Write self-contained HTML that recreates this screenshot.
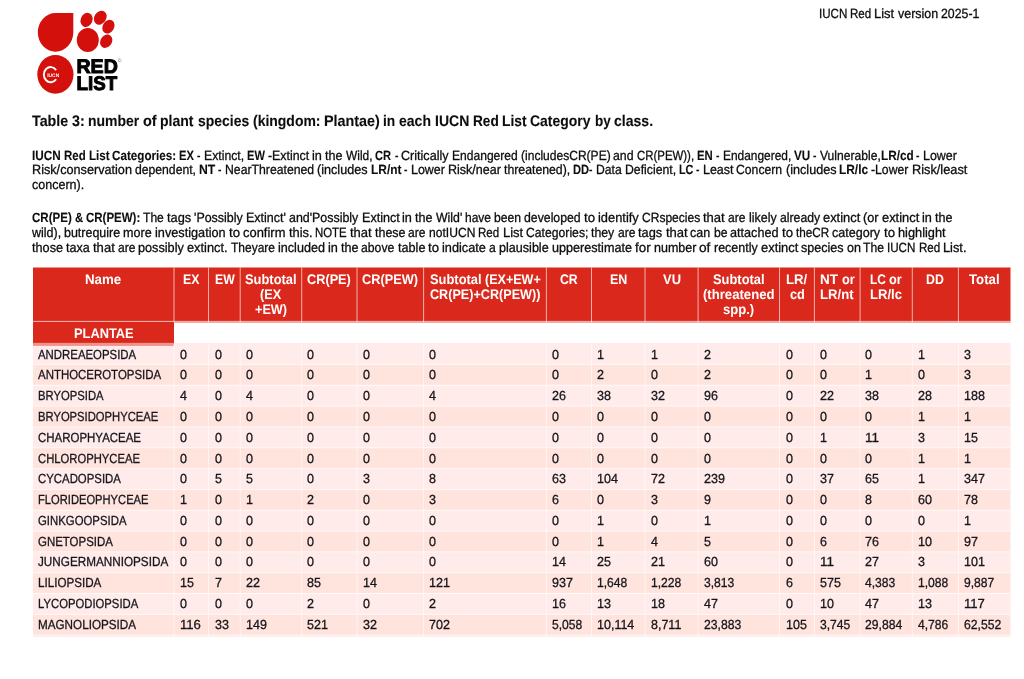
<!DOCTYPE html>
<html lang="en"><head><meta charset="utf-8"><title>IUCN Red List version 2025-1 - Table 3</title>
<style>
html,body{margin:0;padding:0;background:#fff}
body{width:1024px;height:679px;position:relative;overflow:hidden;font-family:"Liberation Sans",sans-serif;text-rendering:geometricPrecision}
svg{position:absolute;left:0;top:0}
.t{position:absolute;white-space:nowrap;line-height:1;height:1em}
.t span{position:absolute;top:0;transform-origin:0 0;white-space:pre}
.t b{font-weight:bold;-webkit-text-stroke-width:0.1px}
.k{color:#0d0d0d;-webkit-text-stroke:0.3px currentColor;}
.w{color:#fff;-webkit-text-stroke-width:0 !important}
.d{color:#15151c;-webkit-text-stroke:0.3px currentColor;}
.bb{font-weight:bold;-webkit-text-stroke-width:0.1px}
.s0{font-size:13.2px}.s1{font-size:13.3px}.s2{font-size:13.9px}.s3{font-size:15.3px}
</style></head><body>
<svg width="1024" height="679" viewBox="0 0 1024 679">
<rect x="33.0" y="267.5" width="977.50" height="54.90" fill="#da291c"/>
<rect x="33.0" y="321.9" width="141.00" height="21.10" fill="#da291c"/>
<rect x="33.0" y="343.00" width="977.50" height="21.70" fill="#ffebe9"/>
<rect x="33.0" y="364.40" width="977.50" height="21.13" fill="#ffe3dd"/>
<rect x="33.0" y="385.23" width="977.50" height="21.13" fill="#ffebe9"/>
<rect x="33.0" y="406.06" width="977.50" height="21.13" fill="#ffe3dd"/>
<rect x="33.0" y="426.89" width="977.50" height="21.13" fill="#ffebe9"/>
<rect x="33.0" y="447.72" width="977.50" height="21.13" fill="#ffe3dd"/>
<rect x="33.0" y="468.55" width="977.50" height="21.13" fill="#ffebe9"/>
<rect x="33.0" y="489.38" width="977.50" height="21.13" fill="#ffe3dd"/>
<rect x="33.0" y="510.21" width="977.50" height="21.13" fill="#ffebe9"/>
<rect x="33.0" y="531.04" width="977.50" height="21.13" fill="#ffe3dd"/>
<rect x="33.0" y="551.87" width="977.50" height="21.13" fill="#ffebe9"/>
<rect x="33.0" y="572.70" width="977.50" height="21.13" fill="#ffe3dd"/>
<rect x="33.0" y="593.53" width="977.50" height="21.13" fill="#ffebe9"/>
<rect x="33.0" y="614.36" width="977.50" height="22.23" fill="#ffe3dd"/>
<rect x="33.0" y="342.85" width="141.00" height="3.05" fill="#ee928b"/>
<g stroke="#fff" stroke-width="0.8" fill="none">
<path d="M33.0 321.4H1010.5" stroke-opacity="0.85"/>
<path d="M33.0 364.40H1010.5M33.0 385.23H1010.5M33.0 406.06H1010.5M33.0 426.89H1010.5M33.0 447.72H1010.5M33.0 468.55H1010.5M33.0 489.38H1010.5M33.0 510.21H1010.5M33.0 531.04H1010.5M33.0 551.87H1010.5M33.0 572.70H1010.5M33.0 593.53H1010.5M33.0 614.36H1010.5M33.0 635.19H1010.5" stroke-opacity="0.9"/>
<path d="M174.0 267.5V322.4M208.5 267.5V322.4M240.2 267.5V322.4M301.7 267.5V322.4M357.0 267.5V322.4M423.6 267.5V322.4M546.4 267.5V322.4M591.5 267.5V322.4M645.0 267.5V322.4M698.1 267.5V322.4M779.5 267.5V322.4M814.4 267.5V322.4M860.1 267.5V322.4M912.3 267.5V322.4M958.4 267.5V322.4" stroke-opacity="0.8"/>
<path d="M174.0 343.57V636.39M208.5 343.57V636.39M240.2 343.57V636.39M301.7 343.57V636.39M357.0 343.57V636.39M423.6 343.57V636.39M546.4 343.57V636.39M591.5 343.57V636.39M645.0 343.57V636.39M698.1 343.57V636.39M779.5 343.57V636.39M814.4 343.57V636.39M860.1 343.57V636.39M912.3 343.57V636.39M958.4 343.57V636.39" stroke-opacity="0.75"/>
</g></svg>
<svg width="140" height="100" viewBox="0 0 140 100" style="left:0;top:0">
<g fill="#d3100b">
<path d="M55.6 13 H73.3 V32.4 A17.75 19.35 0 1 1 55.6 13 Z"/>
<ellipse cx="87.8" cy="40" rx="11" ry="12.1"/>
<ellipse cx="86.6" cy="19.9" rx="5.9" ry="7.3" transform="rotate(22 86.6 19.9)"/>
<ellipse cx="100.3" cy="17.7" rx="5.9" ry="7.4" transform="rotate(35 100.3 17.7)"/>
<ellipse cx="108.4" cy="26.7" rx="5.7" ry="7.2" transform="rotate(32 108.4 26.7)"/>
<ellipse cx="106.2" cy="41.2" rx="5.7" ry="7.1" transform="rotate(35 106.2 41.2)"/>
<ellipse cx="55.4" cy="74.3" rx="18.1" ry="19.4"/>
</g>
<path d="M56.1 70.1 A6.8 7.6 0 1 0 56.1 79.2" fill="none" stroke="#fff" stroke-width="1.9"/>
<text x="47.2" y="76.7" font-family="'Liberation Sans',sans-serif" font-weight="bold" font-size="5" fill="#fff" textLength="12" lengthAdjust="spacingAndGlyphs">IUCN</text>
<g font-family="'Liberation Sans',sans-serif" font-weight="bold" font-size="19.6" fill="#000" stroke="#000" stroke-width="1" stroke-linejoin="miter">
<text x="76.5" y="72.9" textLength="41.3" lengthAdjust="spacingAndGlyphs">RED</text>
<text x="76.5" y="89.6" textLength="40.6" lengthAdjust="spacingAndGlyphs">LIST</text>
</g>
<text x="117.7" y="61.5" font-family="'Liberation Sans',sans-serif" font-size="5" fill="#666">©</text>
</svg>

<div class="t s1 k" style="left:818.70px;top:7px"><span style="left:0.00px;transform:scaleX(0.8727)">IUCN</span> <span style="left:31.45px;transform:scaleX(0.8706)">Red</span> <span style="left:55.78px;transform:scaleX(0.9751)">List</span> <span style="left:79.04px;transform:scaleX(0.9353)">version</span> <span style="left:122.22px;transform:scaleX(0.9255)">2025-1</span></div>
<div class="t s3 k bb" style="left:31.90px;top:114px"><span style="left:0.00px;transform:scaleX(0.9346)">Table</span> <span style="left:39.96px;transform:scaleX(0.9319)">3:</span> <span style="left:56.32px;transform:scaleX(0.9127)">number</span> <span style="left:111.20px;transform:scaleX(0.9464)">of</span> <span style="left:128.55px;transform:scaleX(0.9169)">plant</span> <span style="left:165.73px;transform:scaleX(0.9121)">species</span> <span style="left:220.62px;transform:scaleX(0.9130)">(kingdom:</span> <span style="left:291.80px;transform:scaleX(0.9385)">Plantae)</span> <span style="left:351.34px;transform:scaleX(0.8994)">in</span> <span style="left:367.25px;transform:scaleX(0.9163)">each</span> <span style="left:402.88px;transform:scaleX(0.9159)">IUCN</span> <span style="left:440.81px;transform:scaleX(0.8939)">Red</span> <span style="left:470.32px;transform:scaleX(0.9031)">List</span> <span style="left:498.57px;transform:scaleX(0.9121)">Category</span> <span style="left:562.73px;transform:scaleX(0.8802)">by</span> <span style="left:582.13px;transform:scaleX(0.9190)">class.</span></div>
<div class="t s1 k" style="left:32.00px;top:149px"><span style="left:0.00px;transform:scaleX(0.8830)"><b>IUCN</b></span> <span style="left:31.79px;transform:scaleX(0.8618)"><b>Red</b></span> <span style="left:56.52px;transform:scaleX(0.8707)"><b>List</b></span> <span style="left:80.19px;transform:scaleX(0.8775)"><b>Categories:</b></span> <span style="left:147.48px;transform:scaleX(0.8380)"><b>EX</b></span> <span style="left:165.43px;transform:scaleX(0.7750)">-</span> <span style="left:171.94px;transform:scaleX(0.9211)">Extinct,</span> <span style="left:215.19px;transform:scaleX(0.8333)"><b>EW</b></span> <span style="left:236.12px;transform:scaleX(0.9282)">-Extinct</span> <span style="left:280.36px;transform:scaleX(0.9541)">in</span> <span style="left:293.32px;transform:scaleX(0.9459)">the</span> <span style="left:313.89px;transform:scaleX(0.8968)">Wild,</span> <span style="left:343.48px;transform:scaleX(0.8372)"><b>CR</b></span> <span style="left:362.64px;transform:scaleX(0.7750)">-</span> <span style="left:369.16px;transform:scaleX(0.9467)">Critically</span> <span style="left:419.80px;transform:scaleX(0.9076)">Endangered</span> <span style="left:488.66px;transform:scaleX(0.9057)">(includesCR(PE)</span> <span style="left:581.44px;transform:scaleX(0.9291)">and</span> <span style="left:605.14px;transform:scaleX(0.8585)">CR(PEW)),</span> <span style="left:665.30px;transform:scaleX(0.8523)"><b>EN</b></span> <span style="left:684.13px;transform:scaleX(0.7750)">-</span> <span style="left:690.64px;transform:scaleX(0.8956)">Endangered,</span> <span style="left:761.94px;transform:scaleX(0.8822)"><b>VU</b></span> <span style="left:781.32px;transform:scaleX(0.7750)">-</span> <span style="left:787.84px;transform:scaleX(0.9101)">Vulnerable,</span><span style="left:848.63px;transform:scaleX(0.8863)"><b>LR/cd</b></span> <span style="left:884.45px;transform:scaleX(0.7750)">-</span> <span style="left:890.97px;transform:scaleX(0.9358)">Lower</span></div>
<div class="t s1 k" style="left:32.00px;top:163px"><span style="left:0.00px;transform:scaleX(0.9523)">Risk/conservation</span> <span style="left:103.04px;transform:scaleX(0.9158)">dependent,</span> <span style="left:167.08px;transform:scaleX(0.9184)"><b>NT</b></span> <span style="left:186.45px;transform:scaleX(0.7750)">-</span> <span style="left:192.96px;transform:scaleX(0.9208)">NearThreatened</span> <span style="left:285.23px;transform:scaleX(0.9487)">(includes</span> <span style="left:338.80px;transform:scaleX(0.8961)"><b>LR/nt</b></span> <span style="left:372.33px;transform:scaleX(0.7750)">-</span> <span style="left:378.85px;transform:scaleX(0.9358)">Lower</span> <span style="left:415.82px;transform:scaleX(0.9418)">Risk/near</span> <span style="left:471.81px;transform:scaleX(0.9230)">threatened),</span> <span style="left:541.10px;transform:scaleX(0.8403)"><b>DD</b></span><span style="left:557.24px;transform:scaleX(0.7750)">-</span> <span style="left:563.75px;transform:scaleX(0.9156)">Data</span> <span style="left:592.56px;transform:scaleX(0.9215)">Deficient,</span> <span style="left:646.73px;transform:scaleX(0.8153)"><b>LC</b></span> <span style="left:664.26px;transform:scaleX(0.7750)">-</span> <span style="left:670.78px;transform:scaleX(0.9375)">Least</span> <span style="left:704.36px;transform:scaleX(0.9185)">Concern</span> <span style="left:753.62px;transform:scaleX(0.9487)">(includes</span> <span style="left:807.19px;transform:scaleX(0.8931)"><b>LR/lc</b></span> <span style="left:839.31px;transform:scaleX(0.9182)">-Lower</span> <span style="left:879.73px;transform:scaleX(0.9598)">Risk/least</span></div>
<div class="t s1 k" style="left:32.00px;top:178px"><span style="left:0.00px;transform:scaleX(0.9414)">concern).</span></div>
<div class="t s1 k" style="left:32.00px;top:211px"><span style="left:0.00px;transform:scaleX(0.8682)"><b>CR(PE)</b></span> <span style="left:42.85px;transform:scaleX(0.8504)"><b>&amp;</b></span> <span style="left:54.10px;transform:scaleX(0.8636)"><b>CR(PEW):</b></span> <span style="left:111.17px;transform:scaleX(0.9091)">The</span> <span style="left:135.09px;transform:scaleX(0.9627)">tags</span> <span style="left:162.37px;transform:scaleX(0.9357)">'Possibly</span> <span style="left:214.17px;transform:scaleX(0.9397)">Extinct'</span> <span style="left:257.15px;transform:scaleX(0.9337)">and'Possibly</span> <span style="left:329.56px;transform:scaleX(0.9451)">Extinct</span> <span style="left:370.37px;transform:scaleX(0.9541)">in</span> <span style="left:383.33px;transform:scaleX(0.9459)">the</span> <span style="left:403.90px;transform:scaleX(0.9237)">Wild'</span> <span style="left:433.21px;transform:scaleX(0.9024)">have</span> <span style="left:462.32px;transform:scaleX(0.9127)">been</span> <span style="left:492.40px;transform:scaleX(0.9237)">developed</span> <span style="left:552.18px;transform:scaleX(0.9939)">to</span> <span style="left:566.29px;transform:scaleX(0.9669)">identify</span> <span style="left:610.12px;transform:scaleX(0.9054)">CRspecies</span> <span style="left:671.42px;transform:scaleX(0.9792)">that</span> <span style="left:696.22px;transform:scaleX(0.9069)">are</span> <span style="left:716.74px;transform:scaleX(0.9368)">likely</span> <span style="left:747.51px;transform:scaleX(0.9190)">already</span> <span style="left:790.68px;transform:scaleX(0.9691)">extinct</span> <span style="left:831.01px;transform:scaleX(0.9561)">(or</span> <span style="left:849.64px;transform:scaleX(0.9691)">extinct</span> <span style="left:889.97px;transform:scaleX(0.9541)">in</span> <span style="left:902.93px;transform:scaleX(0.9459)">the</span></div>
<div class="t s1 k" style="left:32.00px;top:226px"><span style="left:0.00px;transform:scaleX(0.9390)">wild),</span> <span style="left:32.23px;transform:scaleX(0.9378)">butrequire</span> <span style="left:91.47px;transform:scaleX(0.9456)">more</span> <span style="left:123.20px;transform:scaleX(0.9555)">investigation</span> <span style="left:196.93px;transform:scaleX(0.9939)">to</span> <span style="left:211.04px;transform:scaleX(0.9729)">confirm</span> <span style="left:256.54px;transform:scaleX(0.9678)">this.</span> <span style="left:283.23px;transform:scaleX(0.8583)">NOTE</span> <span style="left:318.02px;transform:scaleX(0.9792)">that</span> <span style="left:342.82px;transform:scaleX(0.9369)">these</span> <span style="left:376.39px;transform:scaleX(0.9069)">are</span> <span style="left:396.91px;transform:scaleX(0.9093)">notIUCN</span> <span style="left:446.36px;transform:scaleX(0.8706)">Red</span> <span style="left:470.69px;transform:scaleX(0.9751)">List</span> <span style="left:493.95px;transform:scaleX(0.9173)">Categories;</span> <span style="left:559.42px;transform:scaleX(0.9263)">they</span> <span style="left:585.79px;transform:scaleX(0.9069)">are</span> <span style="left:606.31px;transform:scaleX(0.9627)">tags</span> <span style="left:633.59px;transform:scaleX(0.9792)">that</span> <span style="left:658.39px;transform:scaleX(0.9380)">can</span> <span style="left:681.59px;transform:scaleX(0.9166)">be</span> <span style="left:698.23px;transform:scaleX(0.9518)">attached</span> <span style="left:749.88px;transform:scaleX(0.9939)">to</span> <span style="left:763.98px;transform:scaleX(0.8813)">theCR</span> <span style="left:800.29px;transform:scaleX(0.9439)">category</span> <span style="left:851.52px;transform:scaleX(0.9939)">to</span> <span style="left:865.63px;transform:scaleX(0.9605)">highlight</span></div>
<div class="t s1 k" style="left:32.00px;top:241px"><span style="left:0.00px;transform:scaleX(0.9537)">those</span> <span style="left:34.12px;transform:scaleX(0.9456)">taxa</span> <span style="left:60.98px;transform:scaleX(0.9807)">that</span> <span style="left:85.82px;transform:scaleX(0.9084)">are</span> <span style="left:106.37px;transform:scaleX(0.9539)">possibly</span> <span style="left:155.29px;transform:scaleX(0.9633)">extinct.</span> <span style="left:198.72px;transform:scaleX(0.9027)">Theyare</span> <span style="left:245.86px;transform:scaleX(0.9469)">included</span> <span style="left:295.85px;transform:scaleX(0.9556)">in</span> <span style="left:308.83px;transform:scaleX(0.9474)">the</span> <span style="left:329.44px;transform:scaleX(0.9188)">above</span> <span style="left:365.82px;transform:scaleX(0.9515)">table</span> <span style="left:396.35px;transform:scaleX(0.9955)">to</span> <span style="left:410.47px;transform:scaleX(0.9571)">indicate</span> <span style="left:457.44px;transform:scaleX(0.9149)">a</span> <span style="left:467.29px;transform:scaleX(0.9463)">plausible</span> <span style="left:520.06px;transform:scaleX(0.9489)">upperestimate</span> <span style="left:603.12px;transform:scaleX(1.0072)">for</span> <span style="left:621.84px;transform:scaleX(0.9409)">number</span> <span style="left:667.35px;transform:scaleX(1.0295)">of</span> <span style="left:681.86px;transform:scaleX(0.9373)">recently</span> <span style="left:728.60px;transform:scaleX(0.9707)">extinct</span> <span style="left:768.99px;transform:scaleX(0.9436)">species</span> <span style="left:814.63px;transform:scaleX(0.9439)">on</span> <span style="left:831.44px;transform:scaleX(0.9106)">The</span> <span style="left:855.40px;transform:scaleX(0.8741)">IUCN</span> <span style="left:886.90px;transform:scaleX(0.8720)">Red</span> <span style="left:911.26px;transform:scaleX(0.9632)">List.</span></div>
<div class="t s2 w bb" style="left:85.37px;top:273px"><span style="left:0.00px;transform:scaleX(0.9579)">Name</span></div>
<div class="t s2 w bb" style="left:183.05px;top:273px"><span style="left:0.00px;transform:scaleX(0.8846)">EX</span></div>
<div class="t s2 w bb" style="left:214.50px;top:273px"><span style="left:0.00px;transform:scaleX(0.8795)">EW</span></div>
<div class="t s2 w bb" style="left:245.15px;top:273px"><span style="left:0.00px;transform:scaleX(0.9281)">Subtotal</span></div>
<div class="t s2 w bb" style="left:260.35px;top:288px"><span style="left:0.00px;transform:scaleX(0.9146)">(EX</span></div>
<div class="t s2 w bb" style="left:254.91px;top:303px"><span style="left:0.00px;transform:scaleX(0.9127)">+EW)</span></div>
<div class="t s2 w bb" style="left:307.41px;top:273px"><span style="left:0.00px;transform:scaleX(0.9165)">CR(PE)</span></div>
<div class="t s2 w bb" style="left:362.32px;top:273px"><span style="left:0.00px;transform:scaleX(0.9175)">CR(PEW)</span></div>
<div class="t s2 w bb" style="left:429.60px;top:273px"><span style="left:0.00px;transform:scaleX(0.9281)">Subtotal</span> <span style="left:55.00px;transform:scaleX(0.9032)">(EX+EW+</span></div>
<div class="t s2 w bb" style="left:429.60px;top:288px"><span style="left:0.00px;transform:scaleX(0.9080)">CR(PE)+CR(PEW))</span></div>
<div class="t s2 w bb" style="left:560.08px;top:273px"><span style="left:0.00px;transform:scaleX(0.8836)">CR</span></div>
<div class="t s2 w bb" style="left:609.56px;top:273px"><span style="left:0.00px;transform:scaleX(0.8997)">EN</span></div>
<div class="t s2 w bb" style="left:662.56px;top:273px"><span style="left:0.00px;transform:scaleX(0.9312)">VU</span></div>
<div class="t s2 w bb" style="left:713.00px;top:273px"><span style="left:0.00px;transform:scaleX(0.9281)">Subtotal</span></div>
<div class="t s2 w bb" style="left:703.03px;top:288px"><span style="left:0.00px;transform:scaleX(0.9452)">(threatened</span></div>
<div class="t s2 w bb" style="left:723.18px;top:303px"><span style="left:0.00px;transform:scaleX(0.9407)">spp.)</span></div>
<div class="t s2 w bb" style="left:786.31px;top:273px"><span style="left:0.00px;transform:scaleX(0.9500)">LR/</span></div>
<div class="t s2 w bb" style="left:789.52px;top:288px"><span style="left:0.00px;transform:scaleX(0.9155)">cd</span></div>
<div class="t s2 w bb" style="left:820.19px;top:273px"><span style="left:0.00px;transform:scaleX(0.9694)">NT</span> <span style="left:21.36px;transform:scaleX(0.9174)">or</span></div>
<div class="t s2 w bb" style="left:820.46px;top:288px"><span style="left:0.00px;transform:scaleX(0.9459)">LR/nt</span></div>
<div class="t s2 w bb" style="left:870.15px;top:273px"><span style="left:0.00px;transform:scaleX(0.8606)">LC</span> <span style="left:19.35px;transform:scaleX(0.9174)">or</span></div>
<div class="t s2 w bb" style="left:870.18px;top:288px"><span style="left:0.00px;transform:scaleX(0.9427)">LR/lc</span></div>
<div class="t s2 w bb" style="left:926.45px;top:273px"><span style="left:0.00px;transform:scaleX(0.8870)">DD</span></div>
<div class="t s2 w bb" style="left:969.12px;top:273px"><span style="left:0.00px;transform:scaleX(0.9530)">Total</span></div>
<div class="t s2 w bb" style="left:73.63px;top:327px"><span style="left:0.00px;transform:scaleX(0.9245)">PLANTAE</span></div>
<div class="t s0 d" style="left:37.80px;top:348px"><span style="left:0.00px;transform:scaleX(0.8640)">ANDREAEOPSIDA</span></div>
<div class="t s0 d" style="left:180.00px;top:348px"><span style="left:0.00px;transform:scaleX(0.9506)">0</span></div>
<div class="t s0 d" style="left:214.70px;top:348px"><span style="left:0.00px;transform:scaleX(0.9506)">0</span></div>
<div class="t s0 d" style="left:245.50px;top:348px"><span style="left:0.00px;transform:scaleX(0.9506)">0</span></div>
<div class="t s0 d" style="left:307.30px;top:348px"><span style="left:0.00px;transform:scaleX(0.9506)">0</span></div>
<div class="t s0 d" style="left:362.60px;top:348px"><span style="left:0.00px;transform:scaleX(0.9506)">0</span></div>
<div class="t s0 d" style="left:429.20px;top:348px"><span style="left:0.00px;transform:scaleX(0.9506)">0</span></div>
<div class="t s0 d" style="left:552.00px;top:348px"><span style="left:0.00px;transform:scaleX(0.9506)">0</span></div>
<div class="t s0 d" style="left:597.10px;top:348px"><span style="left:0.00px;transform:scaleX(0.9506)">1</span></div>
<div class="t s0 d" style="left:650.60px;top:348px"><span style="left:0.00px;transform:scaleX(0.9506)">1</span></div>
<div class="t s0 d" style="left:703.70px;top:348px"><span style="left:0.00px;transform:scaleX(0.9506)">2</span></div>
<div class="t s0 d" style="left:786.00px;top:348px"><span style="left:0.00px;transform:scaleX(0.9506)">0</span></div>
<div class="t s0 d" style="left:820.40px;top:348px"><span style="left:0.00px;transform:scaleX(0.9506)">0</span></div>
<div class="t s0 d" style="left:865.30px;top:348px"><span style="left:0.00px;transform:scaleX(0.9506)">0</span></div>
<div class="t s0 d" style="left:917.90px;top:348px"><span style="left:0.00px;transform:scaleX(0.9506)">1</span></div>
<div class="t s0 d" style="left:964.00px;top:348px"><span style="left:0.00px;transform:scaleX(0.9506)">3</span></div>
<div class="t s0 d" style="left:37.80px;top:368px"><span style="left:0.00px;transform:scaleX(0.8678)">ANTHOCEROTOPSIDA</span></div>
<div class="t s0 d" style="left:180.00px;top:368px"><span style="left:0.00px;transform:scaleX(0.9506)">0</span></div>
<div class="t s0 d" style="left:214.70px;top:368px"><span style="left:0.00px;transform:scaleX(0.9506)">0</span></div>
<div class="t s0 d" style="left:245.50px;top:368px"><span style="left:0.00px;transform:scaleX(0.9506)">0</span></div>
<div class="t s0 d" style="left:307.30px;top:368px"><span style="left:0.00px;transform:scaleX(0.9506)">0</span></div>
<div class="t s0 d" style="left:362.60px;top:368px"><span style="left:0.00px;transform:scaleX(0.9506)">0</span></div>
<div class="t s0 d" style="left:429.20px;top:368px"><span style="left:0.00px;transform:scaleX(0.9506)">0</span></div>
<div class="t s0 d" style="left:552.00px;top:368px"><span style="left:0.00px;transform:scaleX(0.9506)">0</span></div>
<div class="t s0 d" style="left:597.10px;top:368px"><span style="left:0.00px;transform:scaleX(0.9506)">2</span></div>
<div class="t s0 d" style="left:650.60px;top:368px"><span style="left:0.00px;transform:scaleX(0.9506)">0</span></div>
<div class="t s0 d" style="left:703.70px;top:368px"><span style="left:0.00px;transform:scaleX(0.9506)">2</span></div>
<div class="t s0 d" style="left:786.00px;top:368px"><span style="left:0.00px;transform:scaleX(0.9506)">0</span></div>
<div class="t s0 d" style="left:820.40px;top:368px"><span style="left:0.00px;transform:scaleX(0.9506)">0</span></div>
<div class="t s0 d" style="left:865.30px;top:368px"><span style="left:0.00px;transform:scaleX(0.9506)">1</span></div>
<div class="t s0 d" style="left:917.90px;top:368px"><span style="left:0.00px;transform:scaleX(0.9506)">0</span></div>
<div class="t s0 d" style="left:964.00px;top:368px"><span style="left:0.00px;transform:scaleX(0.9506)">3</span></div>
<div class="t s0 d" style="left:37.80px;top:389px"><span style="left:0.00px;transform:scaleX(0.8548)">BRYOPSIDA</span></div>
<div class="t s0 d" style="left:180.00px;top:389px"><span style="left:0.00px;transform:scaleX(0.9506)">4</span></div>
<div class="t s0 d" style="left:214.70px;top:389px"><span style="left:0.00px;transform:scaleX(0.9506)">0</span></div>
<div class="t s0 d" style="left:245.50px;top:389px"><span style="left:0.00px;transform:scaleX(0.9506)">4</span></div>
<div class="t s0 d" style="left:307.30px;top:389px"><span style="left:0.00px;transform:scaleX(0.9506)">0</span></div>
<div class="t s0 d" style="left:362.60px;top:389px"><span style="left:0.00px;transform:scaleX(0.9506)">0</span></div>
<div class="t s0 d" style="left:429.20px;top:389px"><span style="left:0.00px;transform:scaleX(0.9506)">4</span></div>
<div class="t s0 d" style="left:552.00px;top:389px"><span style="left:0.00px;transform:scaleX(0.9507)">26</span></div>
<div class="t s0 d" style="left:597.10px;top:389px"><span style="left:0.00px;transform:scaleX(0.9507)">38</span></div>
<div class="t s0 d" style="left:650.60px;top:389px"><span style="left:0.00px;transform:scaleX(0.9507)">32</span></div>
<div class="t s0 d" style="left:703.70px;top:389px"><span style="left:0.00px;transform:scaleX(0.9507)">96</span></div>
<div class="t s0 d" style="left:786.00px;top:389px"><span style="left:0.00px;transform:scaleX(0.9506)">0</span></div>
<div class="t s0 d" style="left:820.40px;top:389px"><span style="left:0.00px;transform:scaleX(0.9507)">22</span></div>
<div class="t s0 d" style="left:865.30px;top:389px"><span style="left:0.00px;transform:scaleX(0.9507)">38</span></div>
<div class="t s0 d" style="left:917.90px;top:389px"><span style="left:0.00px;transform:scaleX(0.9507)">28</span></div>
<div class="t s0 d" style="left:964.00px;top:389px"><span style="left:0.00px;transform:scaleX(0.9507)">188</span></div>
<div class="t s0 d" style="left:37.80px;top:410px"><span style="left:0.00px;transform:scaleX(0.8513)">BRYOPSIDOPHYCEAE</span></div>
<div class="t s0 d" style="left:180.00px;top:410px"><span style="left:0.00px;transform:scaleX(0.9506)">0</span></div>
<div class="t s0 d" style="left:214.70px;top:410px"><span style="left:0.00px;transform:scaleX(0.9506)">0</span></div>
<div class="t s0 d" style="left:245.50px;top:410px"><span style="left:0.00px;transform:scaleX(0.9506)">0</span></div>
<div class="t s0 d" style="left:307.30px;top:410px"><span style="left:0.00px;transform:scaleX(0.9506)">0</span></div>
<div class="t s0 d" style="left:362.60px;top:410px"><span style="left:0.00px;transform:scaleX(0.9506)">0</span></div>
<div class="t s0 d" style="left:429.20px;top:410px"><span style="left:0.00px;transform:scaleX(0.9506)">0</span></div>
<div class="t s0 d" style="left:552.00px;top:410px"><span style="left:0.00px;transform:scaleX(0.9506)">0</span></div>
<div class="t s0 d" style="left:597.10px;top:410px"><span style="left:0.00px;transform:scaleX(0.9506)">0</span></div>
<div class="t s0 d" style="left:650.60px;top:410px"><span style="left:0.00px;transform:scaleX(0.9506)">0</span></div>
<div class="t s0 d" style="left:703.70px;top:410px"><span style="left:0.00px;transform:scaleX(0.9506)">0</span></div>
<div class="t s0 d" style="left:786.00px;top:410px"><span style="left:0.00px;transform:scaleX(0.9506)">0</span></div>
<div class="t s0 d" style="left:820.40px;top:410px"><span style="left:0.00px;transform:scaleX(0.9506)">0</span></div>
<div class="t s0 d" style="left:865.30px;top:410px"><span style="left:0.00px;transform:scaleX(0.9506)">0</span></div>
<div class="t s0 d" style="left:917.90px;top:410px"><span style="left:0.00px;transform:scaleX(0.9506)">1</span></div>
<div class="t s0 d" style="left:964.00px;top:410px"><span style="left:0.00px;transform:scaleX(0.9506)">1</span></div>
<div class="t s0 d" style="left:37.80px;top:431px"><span style="left:0.00px;transform:scaleX(0.8694)">CHAROPHYACEAE</span></div>
<div class="t s0 d" style="left:180.00px;top:431px"><span style="left:0.00px;transform:scaleX(0.9506)">0</span></div>
<div class="t s0 d" style="left:214.70px;top:431px"><span style="left:0.00px;transform:scaleX(0.9506)">0</span></div>
<div class="t s0 d" style="left:245.50px;top:431px"><span style="left:0.00px;transform:scaleX(0.9506)">0</span></div>
<div class="t s0 d" style="left:307.30px;top:431px"><span style="left:0.00px;transform:scaleX(0.9506)">0</span></div>
<div class="t s0 d" style="left:362.60px;top:431px"><span style="left:0.00px;transform:scaleX(0.9506)">0</span></div>
<div class="t s0 d" style="left:429.20px;top:431px"><span style="left:0.00px;transform:scaleX(0.9506)">0</span></div>
<div class="t s0 d" style="left:552.00px;top:431px"><span style="left:0.00px;transform:scaleX(0.9506)">0</span></div>
<div class="t s0 d" style="left:597.10px;top:431px"><span style="left:0.00px;transform:scaleX(0.9506)">0</span></div>
<div class="t s0 d" style="left:650.60px;top:431px"><span style="left:0.00px;transform:scaleX(0.9506)">0</span></div>
<div class="t s0 d" style="left:703.70px;top:431px"><span style="left:0.00px;transform:scaleX(0.9506)">0</span></div>
<div class="t s0 d" style="left:786.00px;top:431px"><span style="left:0.00px;transform:scaleX(0.9506)">0</span></div>
<div class="t s0 d" style="left:820.40px;top:431px"><span style="left:0.00px;transform:scaleX(0.9506)">1</span></div>
<div class="t s0 d" style="left:865.30px;top:431px"><span style="left:0.00px;transform:scaleX(1.0187)">11</span></div>
<div class="t s0 d" style="left:917.90px;top:431px"><span style="left:0.00px;transform:scaleX(0.9506)">3</span></div>
<div class="t s0 d" style="left:964.00px;top:431px"><span style="left:0.00px;transform:scaleX(0.9507)">15</span></div>
<div class="t s0 d" style="left:37.80px;top:452px"><span style="left:0.00px;transform:scaleX(0.8538)">CHLOROPHYCEAE</span></div>
<div class="t s0 d" style="left:180.00px;top:452px"><span style="left:0.00px;transform:scaleX(0.9506)">0</span></div>
<div class="t s0 d" style="left:214.70px;top:452px"><span style="left:0.00px;transform:scaleX(0.9506)">0</span></div>
<div class="t s0 d" style="left:245.50px;top:452px"><span style="left:0.00px;transform:scaleX(0.9506)">0</span></div>
<div class="t s0 d" style="left:307.30px;top:452px"><span style="left:0.00px;transform:scaleX(0.9506)">0</span></div>
<div class="t s0 d" style="left:362.60px;top:452px"><span style="left:0.00px;transform:scaleX(0.9506)">0</span></div>
<div class="t s0 d" style="left:429.20px;top:452px"><span style="left:0.00px;transform:scaleX(0.9506)">0</span></div>
<div class="t s0 d" style="left:552.00px;top:452px"><span style="left:0.00px;transform:scaleX(0.9506)">0</span></div>
<div class="t s0 d" style="left:597.10px;top:452px"><span style="left:0.00px;transform:scaleX(0.9506)">0</span></div>
<div class="t s0 d" style="left:650.60px;top:452px"><span style="left:0.00px;transform:scaleX(0.9506)">0</span></div>
<div class="t s0 d" style="left:703.70px;top:452px"><span style="left:0.00px;transform:scaleX(0.9506)">0</span></div>
<div class="t s0 d" style="left:786.00px;top:452px"><span style="left:0.00px;transform:scaleX(0.9506)">0</span></div>
<div class="t s0 d" style="left:820.40px;top:452px"><span style="left:0.00px;transform:scaleX(0.9506)">0</span></div>
<div class="t s0 d" style="left:865.30px;top:452px"><span style="left:0.00px;transform:scaleX(0.9506)">0</span></div>
<div class="t s0 d" style="left:917.90px;top:452px"><span style="left:0.00px;transform:scaleX(0.9506)">1</span></div>
<div class="t s0 d" style="left:964.00px;top:452px"><span style="left:0.00px;transform:scaleX(0.9506)">1</span></div>
<div class="t s0 d" style="left:37.80px;top:472px"><span style="left:0.00px;transform:scaleX(0.8633)">CYCADOPSIDA</span></div>
<div class="t s0 d" style="left:180.00px;top:472px"><span style="left:0.00px;transform:scaleX(0.9506)">0</span></div>
<div class="t s0 d" style="left:214.70px;top:472px"><span style="left:0.00px;transform:scaleX(0.9506)">5</span></div>
<div class="t s0 d" style="left:245.50px;top:472px"><span style="left:0.00px;transform:scaleX(0.9506)">5</span></div>
<div class="t s0 d" style="left:307.30px;top:472px"><span style="left:0.00px;transform:scaleX(0.9506)">0</span></div>
<div class="t s0 d" style="left:362.60px;top:472px"><span style="left:0.00px;transform:scaleX(0.9506)">3</span></div>
<div class="t s0 d" style="left:429.20px;top:472px"><span style="left:0.00px;transform:scaleX(0.9506)">8</span></div>
<div class="t s0 d" style="left:552.00px;top:472px"><span style="left:0.00px;transform:scaleX(0.9507)">63</span></div>
<div class="t s0 d" style="left:597.10px;top:472px"><span style="left:0.00px;transform:scaleX(0.9507)">104</span></div>
<div class="t s0 d" style="left:650.60px;top:472px"><span style="left:0.00px;transform:scaleX(0.9507)">72</span></div>
<div class="t s0 d" style="left:703.70px;top:472px"><span style="left:0.00px;transform:scaleX(0.9507)">239</span></div>
<div class="t s0 d" style="left:786.00px;top:472px"><span style="left:0.00px;transform:scaleX(0.9506)">0</span></div>
<div class="t s0 d" style="left:820.40px;top:472px"><span style="left:0.00px;transform:scaleX(0.9507)">37</span></div>
<div class="t s0 d" style="left:865.30px;top:472px"><span style="left:0.00px;transform:scaleX(0.9507)">65</span></div>
<div class="t s0 d" style="left:917.90px;top:472px"><span style="left:0.00px;transform:scaleX(0.9506)">1</span></div>
<div class="t s0 d" style="left:964.00px;top:472px"><span style="left:0.00px;transform:scaleX(0.9507)">347</span></div>
<div class="t s0 d" style="left:37.80px;top:493px"><span style="left:0.00px;transform:scaleX(0.8470)">FLORIDEOPHYCEAE</span></div>
<div class="t s0 d" style="left:180.00px;top:493px"><span style="left:0.00px;transform:scaleX(0.9506)">1</span></div>
<div class="t s0 d" style="left:214.70px;top:493px"><span style="left:0.00px;transform:scaleX(0.9506)">0</span></div>
<div class="t s0 d" style="left:245.50px;top:493px"><span style="left:0.00px;transform:scaleX(0.9506)">1</span></div>
<div class="t s0 d" style="left:307.30px;top:493px"><span style="left:0.00px;transform:scaleX(0.9506)">2</span></div>
<div class="t s0 d" style="left:362.60px;top:493px"><span style="left:0.00px;transform:scaleX(0.9506)">0</span></div>
<div class="t s0 d" style="left:429.20px;top:493px"><span style="left:0.00px;transform:scaleX(0.9506)">3</span></div>
<div class="t s0 d" style="left:552.00px;top:493px"><span style="left:0.00px;transform:scaleX(0.9506)">6</span></div>
<div class="t s0 d" style="left:597.10px;top:493px"><span style="left:0.00px;transform:scaleX(0.9506)">0</span></div>
<div class="t s0 d" style="left:650.60px;top:493px"><span style="left:0.00px;transform:scaleX(0.9506)">3</span></div>
<div class="t s0 d" style="left:703.70px;top:493px"><span style="left:0.00px;transform:scaleX(0.9506)">9</span></div>
<div class="t s0 d" style="left:786.00px;top:493px"><span style="left:0.00px;transform:scaleX(0.9506)">0</span></div>
<div class="t s0 d" style="left:820.40px;top:493px"><span style="left:0.00px;transform:scaleX(0.9506)">0</span></div>
<div class="t s0 d" style="left:865.30px;top:493px"><span style="left:0.00px;transform:scaleX(0.9506)">8</span></div>
<div class="t s0 d" style="left:917.90px;top:493px"><span style="left:0.00px;transform:scaleX(0.9507)">60</span></div>
<div class="t s0 d" style="left:964.00px;top:493px"><span style="left:0.00px;transform:scaleX(0.9507)">78</span></div>
<div class="t s0 d" style="left:37.80px;top:514px"><span style="left:0.00px;transform:scaleX(0.8624)">GINKGOOPSIDA</span></div>
<div class="t s0 d" style="left:180.00px;top:514px"><span style="left:0.00px;transform:scaleX(0.9506)">0</span></div>
<div class="t s0 d" style="left:214.70px;top:514px"><span style="left:0.00px;transform:scaleX(0.9506)">0</span></div>
<div class="t s0 d" style="left:245.50px;top:514px"><span style="left:0.00px;transform:scaleX(0.9506)">0</span></div>
<div class="t s0 d" style="left:307.30px;top:514px"><span style="left:0.00px;transform:scaleX(0.9506)">0</span></div>
<div class="t s0 d" style="left:362.60px;top:514px"><span style="left:0.00px;transform:scaleX(0.9506)">0</span></div>
<div class="t s0 d" style="left:429.20px;top:514px"><span style="left:0.00px;transform:scaleX(0.9506)">0</span></div>
<div class="t s0 d" style="left:552.00px;top:514px"><span style="left:0.00px;transform:scaleX(0.9506)">0</span></div>
<div class="t s0 d" style="left:597.10px;top:514px"><span style="left:0.00px;transform:scaleX(0.9506)">1</span></div>
<div class="t s0 d" style="left:650.60px;top:514px"><span style="left:0.00px;transform:scaleX(0.9506)">0</span></div>
<div class="t s0 d" style="left:703.70px;top:514px"><span style="left:0.00px;transform:scaleX(0.9506)">1</span></div>
<div class="t s0 d" style="left:786.00px;top:514px"><span style="left:0.00px;transform:scaleX(0.9506)">0</span></div>
<div class="t s0 d" style="left:820.40px;top:514px"><span style="left:0.00px;transform:scaleX(0.9506)">0</span></div>
<div class="t s0 d" style="left:865.30px;top:514px"><span style="left:0.00px;transform:scaleX(0.9506)">0</span></div>
<div class="t s0 d" style="left:917.90px;top:514px"><span style="left:0.00px;transform:scaleX(0.9506)">0</span></div>
<div class="t s0 d" style="left:964.00px;top:514px"><span style="left:0.00px;transform:scaleX(0.9506)">1</span></div>
<div class="t s0 d" style="left:37.80px;top:535px"><span style="left:0.00px;transform:scaleX(0.8689)">GNETOPSIDA</span></div>
<div class="t s0 d" style="left:180.00px;top:535px"><span style="left:0.00px;transform:scaleX(0.9506)">0</span></div>
<div class="t s0 d" style="left:214.70px;top:535px"><span style="left:0.00px;transform:scaleX(0.9506)">0</span></div>
<div class="t s0 d" style="left:245.50px;top:535px"><span style="left:0.00px;transform:scaleX(0.9506)">0</span></div>
<div class="t s0 d" style="left:307.30px;top:535px"><span style="left:0.00px;transform:scaleX(0.9506)">0</span></div>
<div class="t s0 d" style="left:362.60px;top:535px"><span style="left:0.00px;transform:scaleX(0.9506)">0</span></div>
<div class="t s0 d" style="left:429.20px;top:535px"><span style="left:0.00px;transform:scaleX(0.9506)">0</span></div>
<div class="t s0 d" style="left:552.00px;top:535px"><span style="left:0.00px;transform:scaleX(0.9506)">0</span></div>
<div class="t s0 d" style="left:597.10px;top:535px"><span style="left:0.00px;transform:scaleX(0.9506)">1</span></div>
<div class="t s0 d" style="left:650.60px;top:535px"><span style="left:0.00px;transform:scaleX(0.9506)">4</span></div>
<div class="t s0 d" style="left:703.70px;top:535px"><span style="left:0.00px;transform:scaleX(0.9506)">5</span></div>
<div class="t s0 d" style="left:786.00px;top:535px"><span style="left:0.00px;transform:scaleX(0.9506)">0</span></div>
<div class="t s0 d" style="left:820.40px;top:535px"><span style="left:0.00px;transform:scaleX(0.9506)">6</span></div>
<div class="t s0 d" style="left:865.30px;top:535px"><span style="left:0.00px;transform:scaleX(0.9507)">76</span></div>
<div class="t s0 d" style="left:917.90px;top:535px"><span style="left:0.00px;transform:scaleX(0.9507)">10</span></div>
<div class="t s0 d" style="left:964.00px;top:535px"><span style="left:0.00px;transform:scaleX(0.9507)">97</span></div>
<div class="t s0 d" style="left:37.80px;top:555px"><span style="left:0.00px;transform:scaleX(0.8886)">JUNGERMANNIOPSIDA</span></div>
<div class="t s0 d" style="left:180.00px;top:555px"><span style="left:0.00px;transform:scaleX(0.9506)">0</span></div>
<div class="t s0 d" style="left:214.70px;top:555px"><span style="left:0.00px;transform:scaleX(0.9506)">0</span></div>
<div class="t s0 d" style="left:245.50px;top:555px"><span style="left:0.00px;transform:scaleX(0.9506)">0</span></div>
<div class="t s0 d" style="left:307.30px;top:555px"><span style="left:0.00px;transform:scaleX(0.9506)">0</span></div>
<div class="t s0 d" style="left:362.60px;top:555px"><span style="left:0.00px;transform:scaleX(0.9506)">0</span></div>
<div class="t s0 d" style="left:429.20px;top:555px"><span style="left:0.00px;transform:scaleX(0.9506)">0</span></div>
<div class="t s0 d" style="left:552.00px;top:555px"><span style="left:0.00px;transform:scaleX(0.9507)">14</span></div>
<div class="t s0 d" style="left:597.10px;top:555px"><span style="left:0.00px;transform:scaleX(0.9507)">25</span></div>
<div class="t s0 d" style="left:650.60px;top:555px"><span style="left:0.00px;transform:scaleX(0.9507)">21</span></div>
<div class="t s0 d" style="left:703.70px;top:555px"><span style="left:0.00px;transform:scaleX(0.9507)">60</span></div>
<div class="t s0 d" style="left:786.00px;top:555px"><span style="left:0.00px;transform:scaleX(0.9506)">0</span></div>
<div class="t s0 d" style="left:820.40px;top:555px"><span style="left:0.00px;transform:scaleX(1.0187)">11</span></div>
<div class="t s0 d" style="left:865.30px;top:555px"><span style="left:0.00px;transform:scaleX(0.9507)">27</span></div>
<div class="t s0 d" style="left:917.90px;top:555px"><span style="left:0.00px;transform:scaleX(0.9506)">3</span></div>
<div class="t s0 d" style="left:964.00px;top:555px"><span style="left:0.00px;transform:scaleX(0.9507)">101</span></div>
<div class="t s0 d" style="left:37.80px;top:576px"><span style="left:0.00px;transform:scaleX(0.8816)">LILIOPSIDA</span></div>
<div class="t s0 d" style="left:180.00px;top:576px"><span style="left:0.00px;transform:scaleX(0.9507)">15</span></div>
<div class="t s0 d" style="left:214.70px;top:576px"><span style="left:0.00px;transform:scaleX(0.9506)">7</span></div>
<div class="t s0 d" style="left:245.50px;top:576px"><span style="left:0.00px;transform:scaleX(0.9507)">22</span></div>
<div class="t s0 d" style="left:307.30px;top:576px"><span style="left:0.00px;transform:scaleX(0.9507)">85</span></div>
<div class="t s0 d" style="left:362.60px;top:576px"><span style="left:0.00px;transform:scaleX(0.9507)">14</span></div>
<div class="t s0 d" style="left:429.20px;top:576px"><span style="left:0.00px;transform:scaleX(0.9507)">121</span></div>
<div class="t s0 d" style="left:552.00px;top:576px"><span style="left:0.00px;transform:scaleX(0.9507)">937</span></div>
<div class="t s0 d" style="left:597.10px;top:576px"><span style="left:0.00px;transform:scaleX(0.9192)">1,648</span></div>
<div class="t s0 d" style="left:650.60px;top:576px"><span style="left:0.00px;transform:scaleX(0.9192)">1,228</span></div>
<div class="t s0 d" style="left:703.70px;top:576px"><span style="left:0.00px;transform:scaleX(0.9192)">3,813</span></div>
<div class="t s0 d" style="left:786.00px;top:576px"><span style="left:0.00px;transform:scaleX(0.9506)">6</span></div>
<div class="t s0 d" style="left:820.40px;top:576px"><span style="left:0.00px;transform:scaleX(0.9507)">575</span></div>
<div class="t s0 d" style="left:865.30px;top:576px"><span style="left:0.00px;transform:scaleX(0.9192)">4,383</span></div>
<div class="t s0 d" style="left:917.90px;top:576px"><span style="left:0.00px;transform:scaleX(0.9192)">1,088</span></div>
<div class="t s0 d" style="left:964.00px;top:576px"><span style="left:0.00px;transform:scaleX(0.9192)">9,887</span></div>
<div class="t s0 d" style="left:37.80px;top:597px"><span style="left:0.00px;transform:scaleX(0.8565)">LYCOPODIOPSIDA</span></div>
<div class="t s0 d" style="left:180.00px;top:597px"><span style="left:0.00px;transform:scaleX(0.9506)">0</span></div>
<div class="t s0 d" style="left:214.70px;top:597px"><span style="left:0.00px;transform:scaleX(0.9506)">0</span></div>
<div class="t s0 d" style="left:245.50px;top:597px"><span style="left:0.00px;transform:scaleX(0.9506)">0</span></div>
<div class="t s0 d" style="left:307.30px;top:597px"><span style="left:0.00px;transform:scaleX(0.9506)">2</span></div>
<div class="t s0 d" style="left:362.60px;top:597px"><span style="left:0.00px;transform:scaleX(0.9506)">0</span></div>
<div class="t s0 d" style="left:429.20px;top:597px"><span style="left:0.00px;transform:scaleX(0.9506)">2</span></div>
<div class="t s0 d" style="left:552.00px;top:597px"><span style="left:0.00px;transform:scaleX(0.9507)">16</span></div>
<div class="t s0 d" style="left:597.10px;top:597px"><span style="left:0.00px;transform:scaleX(0.9507)">13</span></div>
<div class="t s0 d" style="left:650.60px;top:597px"><span style="left:0.00px;transform:scaleX(0.9507)">18</span></div>
<div class="t s0 d" style="left:703.70px;top:597px"><span style="left:0.00px;transform:scaleX(0.9507)">47</span></div>
<div class="t s0 d" style="left:786.00px;top:597px"><span style="left:0.00px;transform:scaleX(0.9506)">0</span></div>
<div class="t s0 d" style="left:820.40px;top:597px"><span style="left:0.00px;transform:scaleX(0.9507)">10</span></div>
<div class="t s0 d" style="left:865.30px;top:597px"><span style="left:0.00px;transform:scaleX(0.9507)">47</span></div>
<div class="t s0 d" style="left:917.90px;top:597px"><span style="left:0.00px;transform:scaleX(0.9507)">13</span></div>
<div class="t s0 d" style="left:964.00px;top:597px"><span style="left:0.00px;transform:scaleX(0.9950)">117</span></div>
<div class="t s0 d" style="left:37.80px;top:618px"><span style="left:0.00px;transform:scaleX(0.8863)">MAGNOLIOPSIDA</span></div>
<div class="t s0 d" style="left:180.00px;top:618px"><span style="left:0.00px;transform:scaleX(0.9950)">116</span></div>
<div class="t s0 d" style="left:214.70px;top:618px"><span style="left:0.00px;transform:scaleX(0.9507)">33</span></div>
<div class="t s0 d" style="left:245.50px;top:618px"><span style="left:0.00px;transform:scaleX(0.9507)">149</span></div>
<div class="t s0 d" style="left:307.30px;top:618px"><span style="left:0.00px;transform:scaleX(0.9507)">521</span></div>
<div class="t s0 d" style="left:362.60px;top:618px"><span style="left:0.00px;transform:scaleX(0.9507)">32</span></div>
<div class="t s0 d" style="left:429.20px;top:618px"><span style="left:0.00px;transform:scaleX(0.9507)">702</span></div>
<div class="t s0 d" style="left:552.00px;top:618px"><span style="left:0.00px;transform:scaleX(0.9192)">5,058</span></div>
<div class="t s0 d" style="left:597.10px;top:618px"><span style="left:0.00px;transform:scaleX(0.9479)">10,114</span></div>
<div class="t s0 d" style="left:650.60px;top:618px"><span style="left:0.00px;transform:scaleX(0.9473)">8,711</span></div>
<div class="t s0 d" style="left:703.70px;top:618px"><span style="left:0.00px;transform:scaleX(0.9249)">23,883</span></div>
<div class="t s0 d" style="left:786.00px;top:618px"><span style="left:0.00px;transform:scaleX(0.9507)">105</span></div>
<div class="t s0 d" style="left:820.40px;top:618px"><span style="left:0.00px;transform:scaleX(0.9192)">3,745</span></div>
<div class="t s0 d" style="left:865.30px;top:618px"><span style="left:0.00px;transform:scaleX(0.9249)">29,884</span></div>
<div class="t s0 d" style="left:917.90px;top:618px"><span style="left:0.00px;transform:scaleX(0.9192)">4,786</span></div>
<div class="t s0 d" style="left:964.00px;top:618px"><span style="left:0.00px;transform:scaleX(0.9249)">62,552</span></div>
</body></html>
